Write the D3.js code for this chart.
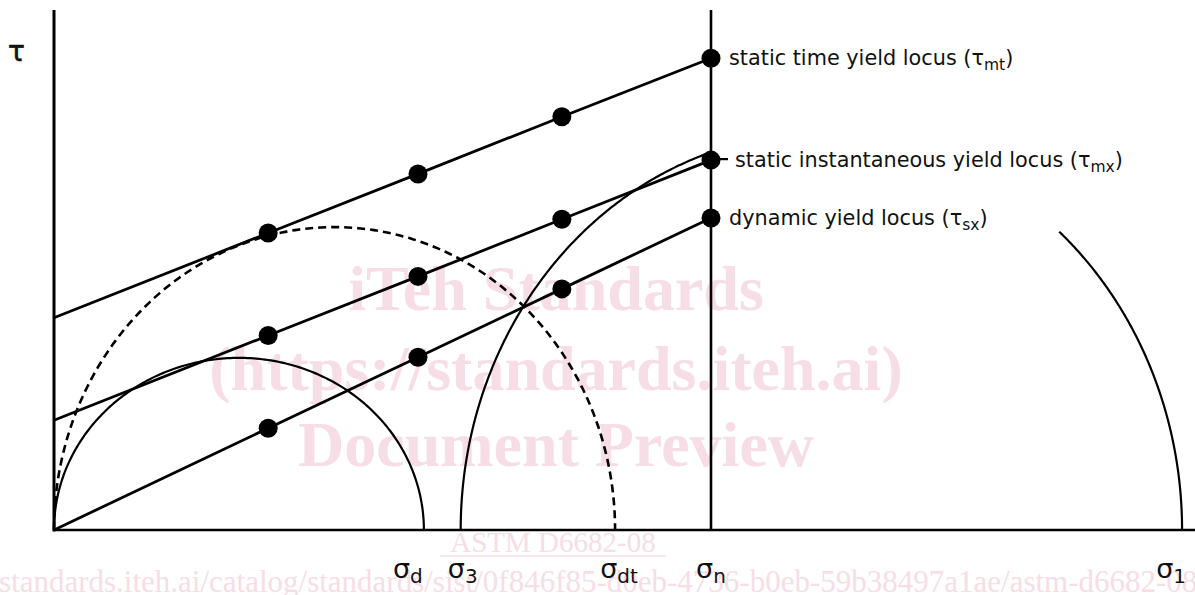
<!DOCTYPE html>
<html><head><meta charset="utf-8">
<script src="https://cdn.jsdelivr.net/npm/d3@7/dist/d3.min.js"></script>
<style>body{margin:0;background:#fff}svg{display:block}</style>
</head><body>
<svg id="chart" width="1195" height="595"></svg>
<script>
// ---- data (σ and τ in chart units; σn = 100) ----
const sigmaMax = 173.7;
const tauMax = 79.15;
const sigmaN = 100;
const dotSigma = [32.6, 55.4, 77.3, 100];
const tauMt = [45.2, 54.2, 62.9, 71.8];
const tauMx = [29.6, 38.6, 47.3, 56.3];
const tauSx = [15.5, 26.3, 36.7, 47.5];
const lociIntercepts = [32.3, 16.7, 0];
const lociNames = ["static time yield locus (τ", "static instantaneous yield locus (τ", "dynamic yield locus (τ"];
const lociSubs = ["mt", "mx", "sx"];
// Mohr circles: left σ, right σ, peak τ, visible arcs (σ ranges)
const mohrLeft = [0, 0, 61.9];
const mohrRight = [56.3, 85.4, 171.7];
const mohrPeak = [26.2, 46.1, 60.4];
const mohrDashed = [false, true, false];
const mohrArcs = [[[0, 56.3]], [[0, 85.4]], [[61.9, 100], [153.0, 171.7]]];
const sigmaTickNames = ["d", "3", "dt", "n", "1"];
const sigmaTickValues = [56.3, 61.9, 85.4, 100, 171.7];
const watermarkLines = ["iTeh Standards", "(https://standards.iteh.ai)", "Document Preview"];
const watermarkCode = "ASTM D6682-08";
const watermarkUrl = "https://standards.iteh.ai/catalog/standards/sist/0f846f85-d0eb-4736-b0eb-59b38497a1ae/astm-d6682-08";

// ---- layout ----
const svg = d3.select("#chart");
const x = d3.scaleLinear().domain([0, 100]).range([54, 711]);
const y = d3.scaleLinear().domain([0, tauMax]).range([530, 10]);
const pink = "#f7dde5";
const ink = "#000";

// watermark (behind)
const wm = svg.append("g").attr("fill", pink).attr("font-family", "'Liberation Serif', 'Times New Roman', serif");
const wmBase = [310, 390, 466];
watermarkLines.forEach((t, i) => {
  wm.append("text").attr("x", 556).attr("y", wmBase[i]).attr("text-anchor", "middle")
    .attr("font-size", 64).attr("font-weight", "bold").text(t);
});
wm.append("text").attr("x", 553).attr("y", 552).attr("text-anchor", "middle")
  .attr("font-size", 29).text(watermarkCode);
wm.append("line").attr("x1", 440).attr("x2", 666).attr("y1", 556).attr("y2", 556)
  .attr("stroke", pink).attr("stroke-width", 1.5);
const url = wm.append("text").attr("x", 0).attr("y", 592).attr("font-size", 31).text(watermarkUrl);
const off = url.node().getSubStringLength(0, 8);
url.attr("x", -off - 1);

// axes
const axes = svg.append("g").attr("stroke", ink).attr("fill", "none");
axes.append("line").attr("x1", x(0)).attr("x2", x(0)).attr("y1", y(0) + 1.5).attr("y2", y(tauMax)).attr("stroke-width", 3);
axes.append("line").attr("x1", x(0)).attr("x2", x(sigmaMax)).attr("y1", y(0)).attr("y2", y(0)).attr("stroke-width", 2.6);
axes.append("line").attr("x1", x(sigmaN)).attr("x2", x(sigmaN)).attr("y1", y(0)).attr("y2", y(tauMax)).attr("stroke-width", 2.6);

// Mohr circles (elliptical arcs through the scales)
const lineGen = d3.line().x(d => x(d[0])).y(d => y(d[1]));
const circ = svg.append("g").attr("fill", "none").attr("stroke", ink);
mohrLeft.forEach((l, i) => {
  const c = (l + mohrRight[i]) / 2, r = (mohrRight[i] - l) / 2, h = mohrPeak[i];
  mohrArcs[i].forEach(([s0, s1]) => {
    const t0 = Math.acos(Math.max(-1, Math.min(1, (s0 - c) / r)));
    const t1 = Math.acos(Math.max(-1, Math.min(1, (s1 - c) / r)));
    const n = 200;
    const pts = d3.range(n + 1).map(k => {
      const t = t0 + (t1 - t0) * k / n;
      return [c + r * Math.cos(t), h * Math.sin(t)];
    });
    circ.append("path").attr("d", lineGen(pts))
      .attr("stroke-width", mohrDashed[i] ? 2.6 : 2.2)
      .attr("stroke-dasharray", mohrDashed[i] ? "8,5" : null);
  });
});

// yield loci
const tauSets = [tauMt, tauMx, tauSx];
const loc = svg.append("g");
tauSets.forEach((taus, i) => {
  const pts = [[0, lociIntercepts[i]]].concat(dotSigma.map((s, k) => [s, taus[k]]));
  loc.append("path").attr("d", lineGen(pts)).attr("fill", "none").attr("stroke", ink).attr("stroke-width", 2.8);
});
tauSets.forEach((taus) => {
  loc.selectAll(null).data(dotSigma.map((s, k) => [s, taus[k]])).enter().append("circle")
    .attr("cx", d => x(d[0])).attr("cy", d => y(d[1])).attr("r", 9.5).attr("fill", ink);
});

// leader tick to the instantaneous label
svg.append("line").attr("x1", x(sigmaN)).attr("x2", x(sigmaN) + 17)
  .attr("y1", y(tauMx[3]) - 1).attr("y2", y(tauMx[3]) - 1).attr("stroke", ink).attr("stroke-width", 2.2);

// locus labels
const labX = [729, 735, 729];
const lab = svg.append("g").attr("font-family", "'DejaVu Sans', Verdana, sans-serif").attr("fill", "#111");
tauSets.forEach((taus, i) => {
  const t = lab.append("text").attr("x", labX[i]).attr("y", y(taus[3]) + 7).attr("font-size", 20.8);
  t.append("tspan").text(lociNames[i]);
  t.append("tspan").attr("font-size", 15.5).attr("dy", 5).text(lociSubs[i]);
  t.append("tspan").attr("dy", -5).text(")");
});

// τ axis label
lab.append("text").attr("x", 8).attr("y", 61).attr("font-size", 28)
  .attr("stroke", "#111").attr("stroke-width", 0.6).text("τ");

// σ labels along axis
const sigAnchor = [-16, 2, 4, 0, -11];
sigmaTickValues.forEach((v, i) => {
  const t = lab.append("text").attr("x", x(v) + sigAnchor[i]).attr("y", 578)
    .attr("text-anchor", "middle").attr("font-size", 27);
  t.append("tspan").text("σ");
  t.append("tspan").attr("font-size", 20).attr("dy", 5).text(sigmaTickNames[i]);
});
</script>
</body></html>
